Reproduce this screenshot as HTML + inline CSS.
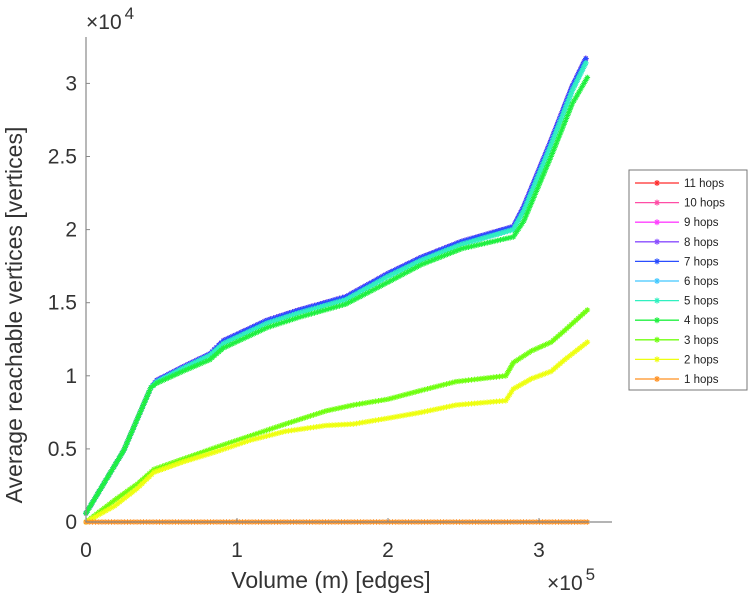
<!DOCTYPE html>
<html><head><meta charset="utf-8"><style>
body{margin:0;background:#fff;}
svg{display:block;font-family:"Liberation Sans",sans-serif;}
</style></head><body>
<svg id="chart" width="749" height="600" viewBox="0 0 749 600" xmlns="http://www.w3.org/2000/svg">
<g id="marks"></g>
<g id="axes"></g>
<g id="legend"></g>
</svg>
<script>
// data (x in 1e5 edges, y in 1e4 vertices)
const xUpper = [0,0.25,0.43,0.47,0.64,0.82,0.91,1.2,1.41,1.72,2.0,2.22,2.49,2.83,2.9,3.08,3.22,3.31];
const yUpper = [0.06,0.49,0.92,0.97,1.06,1.15,1.24,1.38,1.45,1.54,1.70,1.81,1.92,2.02,2.16,2.61,2.98,3.17];
const yUpperLow = [0.06,0.49,0.92,0.96,1.05,1.14,1.22,1.36,1.43,1.52,1.68,1.79,1.90,2.00,2.13,2.58,2.95,3.14];
const xHop4 = [0,0.25,0.43,0.47,0.64,0.82,0.91,1.2,1.41,1.72,2.0,2.22,2.49,2.83,2.9,3.08,3.22,3.32];
const yHop4 = [0.06,0.49,0.92,0.95,1.03,1.11,1.19,1.33,1.40,1.49,1.64,1.76,1.87,1.95,2.06,2.50,2.86,3.04];
const xHop3 = [0,0.19,0.34,0.45,0.64,0.86,1.09,1.32,1.59,1.77,2.0,2.22,2.45,2.78,2.83,2.95,3.08,3.17,3.32];
const yHop3 = [0,0.15,0.26,0.36,0.43,0.51,0.59,0.67,0.76,0.80,0.84,0.90,0.96,1.0,1.09,1.17,1.23,1.31,1.45];
const xHop2 = [0,0.19,0.34,0.45,0.64,0.86,1.09,1.32,1.59,1.77,2.0,2.22,2.45,2.78,2.83,2.95,3.08,3.17,3.32];
const yHop2 = [0,0.11,0.23,0.34,0.41,0.48,0.56,0.62,0.66,0.67,0.71,0.75,0.80,0.83,0.91,0.98,1.03,1.11,1.23];
const xHop1 = [0,3.32];
const yHop1 = [0,0];
const seriesNames = ["11 hops","10 hops","9 hops","8 hops","7 hops","6 hops","5 hops","4 hops","3 hops","2 hops","1 hops"];
const seriesColors = ["#ff2a2a","#ff4da6","#ff40ff","#8a4dff","#2a4dff","#40c8ff","#30f0c0","#20f040","#70ff10","#eeff10","#ff9020"];
const xTicks = [0,1,2,3];
const yTicks = [0,0.5,1,1.5,2,2.5,3];
const yTickLabels = ["0","0.5","1","1.5","2","2.5","3"];

const NS="http://www.w3.org/2000/svg";
const X0=86, XS=151, Y0=522, YS=146.2;
const sx=v=>X0+v*XS, sy=v=>Y0-v*YS;
function mk(tag,attrs,parent){const e=document.createElementNS(NS,tag);for(const k in attrs)e.setAttribute(k,attrs[k]);parent.appendChild(e);return e;}
const seriesData=[[xUpper,yUpper],[xUpper,yUpper],[xUpper,yUpper],[xUpper,yUpper],[xUpper,yUpper],[xUpper,yUpperLow],[xUpper,yUpperLow],[xHop4,yHop4],[xHop3,yHop3],[xHop2,yHop2],[xHop1,yHop1]];
const order=[0,1,2,3,4,5,6,7,8,9,10];
const marks=document.getElementById('marks');
function star(g,x,y,c,r){
  mk('path',{d:`M${x-r},${y}H${x+r}M${x},${y-r}V${y+r}M${x-r*0.7},${y-r*0.7}L${x+r*0.7},${y+r*0.7}M${x-r*0.7},${y+r*0.7}L${x+r*0.7},${y-r*0.7}`,stroke:c,'stroke-width':1.1,fill:'none'},g);
}
order.forEach(i=>{
  const [xs,ys]=seriesData[i];
  const g=mk('g',{},marks);
  
  
  const pts=xs.map((x,j)=>sx(x).toFixed(1)+','+sy(ys[j]).toFixed(1)).join(' ');
  mk('polyline',{points:pts,fill:'none',stroke:seriesColors[i],'stroke-width':1.2},g);
  for(let j=0;j<xs.length-1;j++){
    const x1=sx(xs[j]),y1=sy(ys[j]),x2=sx(xs[j+1]),y2=sy(ys[j+1]);
    const len=Math.hypot(x2-x1,y2-y1), n=Math.max(1,Math.round(len/3.2));
    for(let k=0;k<n;k++){const t=k/n;star(g,x1+(x2-x1)*t,y1+(y2-y1)*t,seriesColors[i],2.8);}
  }
  star(g,sx(xs[xs.length-1]),sy(ys[ys.length-1]),seriesColors[i],2.8);
});
const ax=document.getElementById('axes');
const axc='#888', tc='#333';
let e=mk('line',{x1:X0,y1:37,x2:X0,y2:Y0,stroke:axc,'stroke-width':1.2},ax);

e=mk('line',{x1:X0,y1:Y0,x2:612,y2:Y0,stroke:axc,'stroke-width':1.2},ax);

xTicks.forEach(v=>{
  mk('line',{x1:sx(v),y1:Y0,x2:sx(v),y2:Y0-4,stroke:axc},ax);
  const t=mk('text',{x:sx(v),y:557,'font-size':21,fill:tc,'text-anchor':'middle'},ax);t.textContent=v;
  
});
yTicks.forEach((v,i)=>{
  mk('line',{x1:X0,y1:sy(v),x2:X0+4,y2:sy(v),stroke:axc},ax);
  const t=mk('text',{x:77,y:sy(v)+7,'font-size':21,fill:tc,'text-anchor':'end'},ax);t.textContent=yTickLabels[i];
  
});
function txt(html,attrs,name){const t=document.createElementNS(NS,'text');for(const k in attrs)t.setAttribute(k,attrs[k]);t.innerHTML=html;ax.appendChild(t);

}
txt('×10<tspan dx="3" dy="-10" font-size="17">4</tspan>',{x:86,y:29,'font-size':21,fill:'#333'},'y-exponent');
txt('×10<tspan dx="3" dy="-10" font-size="17">5</tspan>',{x:547,y:590,'font-size':21,fill:'#333'},'x-exponent');
txt('Volume (m) [edges]',{x:331,y:588,'font-size':23,fill:'#333','text-anchor':'middle'},'x-axis-title');
txt('Average reachable vertices [vertices]',{x:0,y:0,'font-size':23,fill:'#333','text-anchor':'middle',transform:'translate(22,315) rotate(-90)'},'y-axis-title');
const lg=document.getElementById('legend');
const box=document.createElementNS(NS,'rect');
box.setAttribute('x',629);box.setAttribute('y',170);box.setAttribute('width',118);box.setAttribute('height',220);
box.setAttribute('fill','#fff');box.setAttribute('stroke','#777');box.setAttribute('stroke-width','1');


lg.appendChild(box);
seriesNames.forEach((n,i)=>{
  const y=183+i*19.6;
  const g=document.createElementNS(NS,'g');
  
  
  lg.appendChild(g);
  const l=document.createElementNS(NS,'line');
  l.setAttribute('x1',635);l.setAttribute('x2',679);l.setAttribute('y1',y);l.setAttribute('y2',y);
  l.setAttribute('stroke',seriesColors[i]);l.setAttribute('stroke-width',1.3);g.appendChild(l);
  star(g,657,y,seriesColors[i],3);
  const t=document.createElementNS(NS,'text');
  t.setAttribute('x',684);t.setAttribute('y',y+4);t.setAttribute('font-size',11.5);t.setAttribute('fill','#222');
  t.textContent=n;g.appendChild(t);
});
</script>
</body></html>
